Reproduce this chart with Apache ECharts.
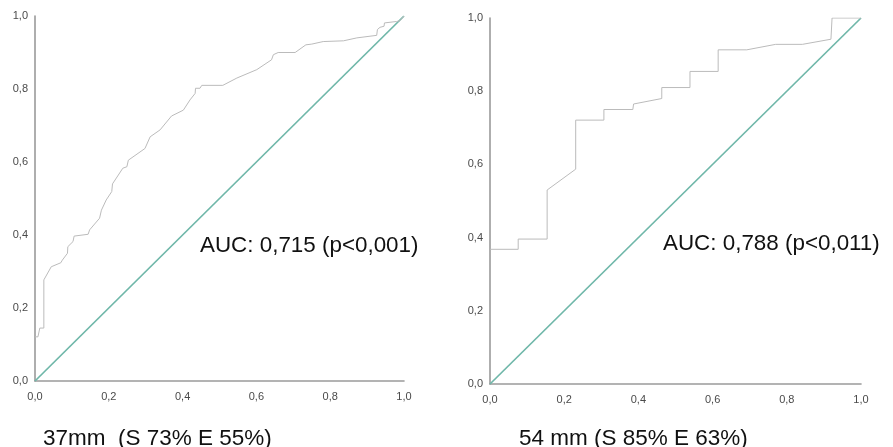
<!DOCTYPE html>
<html>
<head>
<meta charset="utf-8">
<script src="https://cdn.jsdelivr.net/npm/echarts@6/dist/echarts.min.js"></script>
<style>html,body{margin:0;padding:0;background:#fff}#c{width:893px;height:447px}</style>
</head>
<body>
<div id="c"></div>
<script>
// Left ROC curve (37mm)
var leftFPR = [0, 0.008, 0.013, 0.024, 0.024, 0.027, 0.044, 0.070, 0.074, 0.088, 0.089, 0.103, 0.106, 0.144, 0.148, 0.175, 0.180, 0.193, 0.208, 0.210, 0.238, 0.249, 0.253, 0.257, 0.298, 0.312, 0.339, 0.370, 0.402, 0.420, 0.434, 0.435, 0.447, 0.452, 0.509, 0.547, 0.601, 0.641, 0.646, 0.659, 0.705, 0.734, 0.750, 0.781, 0.836, 0.872, 0.926, 0.928, 0.935, 0.946, 0.947, 0.980, 0.989, 1.0];
var leftTPR = [0.121, 0.121, 0.145, 0.145, 0.277, 0.279, 0.313, 0.324, 0.331, 0.350, 0.368, 0.382, 0.397, 0.402, 0.414, 0.446, 0.468, 0.496, 0.519, 0.540, 0.583, 0.587, 0.605, 0.610, 0.637, 0.669, 0.688, 0.726, 0.742, 0.770, 0.788, 0.802, 0.802, 0.810, 0.810, 0.830, 0.853, 0.880, 0.894, 0.900, 0.900, 0.921, 0.923, 0.930, 0.932, 0.940, 0.947, 0.963, 0.969, 0.972, 0.981, 0.985, 0.987, 1.0];
// Right ROC curve (54 mm)
var rightFPR = [0, 0.076, 0.076, 0.154, 0.154, 0.231, 0.231, 0.307, 0.307, 0.385, 0.387, 0.463, 0.463, 0.539, 0.539, 0.615, 0.615, 0.692, 0.770, 0.842, 0.919, 0.922, 1.0];
var rightTPR = [0.368, 0.368, 0.396, 0.396, 0.530, 0.587, 0.721, 0.721, 0.750, 0.750, 0.765, 0.780, 0.810, 0.810, 0.854, 0.854, 0.913, 0.913, 0.928, 0.928, 0.942, 1.0, 1.0];
// Reference (chance) line
var refX = [0, 1];
var refY = [0, 1];
var aucLeft = 'AUC: 0,715 (p<0,001)';
var aucRight = 'AUC: 0,788 (p<0,011)';
var titleLeft = '37mm  (S 73% E 55%)';
var titleRight = '54 mm (S 85% E 63%)';

function pairs(xs, ys) { return xs.map(function (x, i) { return [x, ys[i]]; }); }
function fmt(v) { return v.toFixed(1).replace('.', ','); }

function ax(margin, grid) {
  return {
    type: 'value', min: 0, max: 1, interval: 0.2, gridIndex: grid,
    axisLine: { show: true, lineStyle: { color: '#9a9a9a', width: 1.6 } },
    axisTick: { show: false },
    splitLine: { show: false },
    axisLabel: { formatter: fmt, color: '#4a4a4a', fontSize: 11, margin: margin, fontFamily: 'Liberation Sans' }
  };
}

var chart = echarts.init(document.getElementById('c'), null, { renderer: 'canvas' });
var rocStyle = { color: '#bbbbbb', width: 1 };
var refStyle = { color: '#6fb7a9', width: 1.7 };
chart.setOption({
  animation: false,
  backgroundColor: '#fff',
  grid: [
    { left: 35, top: 16, width: 369, height: 365 },
    { left: 490, top: 18, width: 371, height: 366 }
  ],
  xAxis: [ax(10, 0), ax(10, 1)],
  yAxis: [ax(7, 0), ax(7, 1)],
  series: [
    { type: 'line', xAxisIndex: 0, yAxisIndex: 0, data: pairs(refX, refY), showSymbol: false, lineStyle: refStyle, z: 2 },
    { type: 'line', xAxisIndex: 0, yAxisIndex: 0, data: pairs(leftFPR, leftTPR), showSymbol: false, lineStyle: rocStyle, z: 3 },
    { type: 'line', xAxisIndex: 1, yAxisIndex: 1, data: pairs(refX, refY), showSymbol: false, lineStyle: refStyle, z: 2 },
    { type: 'line', xAxisIndex: 1, yAxisIndex: 1, data: pairs(rightFPR, rightTPR), showSymbol: false, lineStyle: rocStyle, z: 3 }
  ],
  graphic: [
    { type: 'text', left: 200, top: 235, style: { text: aucLeft, font: '22.4px "Liberation Sans"', fill: '#111' } },
    { type: 'text', left: 663, top: 233, style: { text: aucRight, font: '22.4px "Liberation Sans"', fill: '#111' } },
    { type: 'text', left: 43, top: 427, style: { text: titleLeft, font: '22.5px "Liberation Sans"', fill: '#111' } },
    { type: 'text', left: 519, top: 427, style: { text: titleRight, font: '22.5px "Liberation Sans"', fill: '#111' } }
  ]
});
</script>
</body>
</html>
